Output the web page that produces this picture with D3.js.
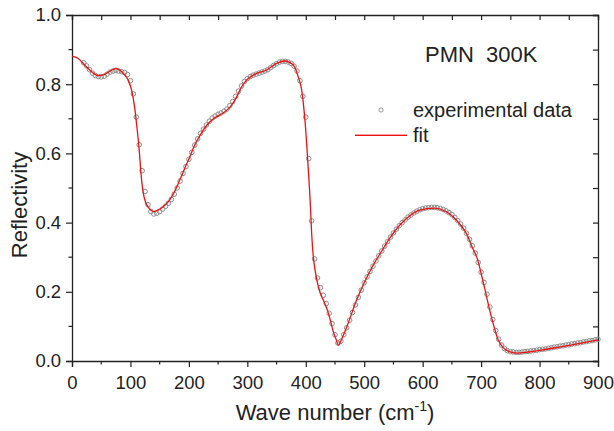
<!DOCTYPE html>
<html lang="en">
<head>
  <meta charset="UTF-8">
  <title>PMN reflectivity</title>
  <script src="https://cdn.jsdelivr.net/npm/d3@7"></script>
<style>
  body { margin: 0; background: #fff; }
  text { font-family: "Liberation Sans", Arial, sans-serif; fill: #222; }
</style>
</head>

<body>
  <script>
    // fit curve (wave number, reflectivity)
    var fitWave = [0, 10, 22, 32, 45, 54, 65, 75, 88, 96, 102, 107, 111, 115, 118, 122, 126, 131, 139, 147,
      156, 166, 175, 185, 195, 202, 208, 219, 231, 242, 253, 265, 274, 282, 290, 299, 308, 316, 333, 350,
      364, 372, 379, 387, 393, 399, 404, 408, 410, 413, 416, 419, 424, 430, 437, 442, 447, 452, 456, 460,
      470, 487, 500, 515, 530, 544, 561, 578, 595, 620, 640, 652, 665, 675, 685, 693, 704, 715, 722, 729,
      737, 748, 761, 780, 800, 830, 860, 900];
    var fitRefl = [0.881, 0.875, 0.855, 0.838, 0.825, 0.827, 0.838, 0.845, 0.831, 0.812, 0.783, 0.735, 0.677, 0.610, 0.542, 0.485, 0.458, 0.443, 0.432, 0.436,
      0.446, 0.463, 0.488, 0.525, 0.565, 0.592, 0.617, 0.652, 0.682, 0.700, 0.711, 0.725, 0.742, 0.764, 0.792, 0.812, 0.824, 0.831, 0.841, 0.860,
      0.867, 0.863, 0.855, 0.822, 0.783, 0.687, 0.562, 0.446, 0.370, 0.300, 0.262, 0.234, 0.200, 0.176, 0.147, 0.118, 0.085, 0.062, 0.046, 0.058,
      0.098, 0.176, 0.226, 0.276, 0.318, 0.356, 0.393, 0.420, 0.436, 0.442, 0.432, 0.417, 0.393, 0.368, 0.328, 0.298, 0.225, 0.145, 0.100, 0.062,
      0.040, 0.027, 0.023, 0.026, 0.031, 0.039, 0.048, 0.061];

    // experimental points
    var expWave = [20, 25, 30, 35, 40, 45, 50, 55, 60, 65, 70, 75, 80, 85, 90, 95, 100, 105, 110, 115,
      120, 125, 130, 135, 140, 145, 150, 155, 160, 165, 170, 175, 180, 185, 190, 195, 200, 205, 210, 215,
      220, 225, 230, 235, 240, 245, 250, 255, 260, 265, 270, 275, 280, 285, 290, 295, 300, 305, 310, 315,
      320, 325, 330, 335, 340, 345, 350, 355, 360, 365, 370, 375, 380, 385, 390, 395, 400, 405, 410, 415,
      420, 425, 430, 435, 440, 445, 450, 455, 460, 465, 470, 475, 480, 485, 490, 495, 500, 505, 510, 515,
      520, 525, 530, 535, 540, 545, 550, 555, 560, 565, 570, 575, 580, 585, 590, 595, 600, 605, 610, 615,
      620, 625, 630, 635, 640, 645, 650, 655, 660, 665, 670, 675, 680, 685, 690, 695, 700, 705, 710, 715,
      720, 725, 730, 735, 740, 745, 750, 755, 760, 765, 770, 775, 780, 785, 790, 795, 800, 805, 810, 815,
      820, 825, 830, 835, 840, 845, 850, 855, 860, 865, 870, 875, 880, 885, 890, 895, 900];
    var expRefl = [0.862, 0.853, 0.842, 0.832, 0.825, 0.822, 0.821, 0.823, 0.829, 0.835, 0.838, 0.840, 0.838, 0.836, 0.834, 0.828, 0.810, 0.772, 0.705, 0.625,
      0.550, 0.490, 0.452, 0.432, 0.425, 0.427, 0.432, 0.439, 0.447, 0.456, 0.467, 0.482, 0.500, 0.520, 0.542, 0.562, 0.583, 0.603, 0.624, 0.642,
      0.658, 0.670, 0.682, 0.693, 0.702, 0.708, 0.713, 0.717, 0.722, 0.728, 0.738, 0.750, 0.765, 0.780, 0.795, 0.808, 0.816, 0.822, 0.826, 0.829,
      0.832, 0.835, 0.838, 0.842, 0.848, 0.854, 0.859, 0.864, 0.866, 0.866, 0.864, 0.860, 0.852, 0.838, 0.810, 0.765, 0.705, 0.585, 0.405, 0.295,
      0.240, 0.212, 0.190, 0.166, 0.138, 0.108, 0.076, 0.052, 0.057, 0.076, 0.096, 0.118, 0.140, 0.162, 0.184, 0.205, 0.226, 0.243, 0.259, 0.274,
      0.289, 0.304, 0.318, 0.332, 0.345, 0.358, 0.370, 0.381, 0.391, 0.400, 0.408, 0.416, 0.422, 0.428, 0.433, 0.437, 0.440, 0.442, 0.443, 0.444,
      0.444, 0.443, 0.441, 0.438, 0.434, 0.429, 0.423, 0.415, 0.406, 0.396, 0.384, 0.369, 0.352, 0.333, 0.312, 0.285, 0.257, 0.227, 0.193, 0.156,
      0.120, 0.088, 0.063, 0.046, 0.036, 0.030, 0.027, 0.026, 0.025, 0.025, 0.026, 0.027, 0.028, 0.029, 0.030, 0.031, 0.033, 0.034, 0.035, 0.037,
      0.038, 0.040, 0.041, 0.043, 0.044, 0.046, 0.047, 0.049, 0.050, 0.052, 0.053, 0.055, 0.056, 0.058, 0.059, 0.061, 0.063];

    var xTicks = [0, 100, 200, 300, 400, 500, 600, 700, 800, 900];
    var xMinor = [50, 150, 250, 350, 450, 550, 650, 750, 850];
    var yTicks = [0.0, 0.2, 0.4, 0.6, 0.8, 1.0];
    var yMinor = [0.1, 0.3, 0.5, 0.7, 0.9];
    var legendLabels = ['experimental data', 'fit'];
    var sampleName = 'PMN  300K';

    var w = 614;
    var h = 431;
    var margin = {top: 15, right: 16, bottom: 70, left: 72};
    var red = '#ee1111';
    var grey = '#8c8c8c';

    var svg = d3.select('body')
                .append('svg')
                .attr('width', w)
                .attr('height', h);

    var x = d3.scaleLinear().domain([0, 900]).range([margin.left, w - margin.right]);
    var y = d3.scaleLinear().domain([0, 1]).range([h - margin.bottom, margin.top]);

    // axes: bottom/left ticks point out, top/right point in
    var xAxisG = svg.append('g').attr('class', 'ax').attr('transform', `translate(0,${h - margin.bottom})`);
    xAxisG.call(d3.axisBottom(x).tickValues(xTicks).tickSize(6).tickFormat(d3.format('d')));
    xAxisG.selectAll('.minor').data(xMinor).enter().append('line')
      .attr('x1', d => x(d)).attr('x2', d => x(d)).attr('y1', 0).attr('y2', 3.5);

    var yAxisG = svg.append('g').attr('class', 'ax').attr('transform', `translate(${margin.left},0)`);
    yAxisG.call(d3.axisLeft(y).tickValues(yTicks).tickSize(6).tickFormat(d3.format('.1f')));
    yAxisG.selectAll('.minor').data(yMinor).enter().append('line')
      .attr('y1', d => y(d)).attr('y2', d => y(d)).attr('x1', 0).attr('x2', -3.5);

    var topAxisG = svg.append('g').attr('class', 'ax').attr('transform', `translate(0,${margin.top})`);
    topAxisG.call(d3.axisTop(x).tickValues(xTicks.concat(xMinor)).tickSize(-5).tickFormat(''));

    var rightAxisG = svg.append('g').attr('class', 'ax').attr('transform', `translate(${w - margin.right},0)`);
    rightAxisG.call(d3.axisRight(y).tickValues(yTicks.concat(yMinor)).tickSize(-5).tickFormat(''));

    svg.selectAll('.ax .domain').attr('stroke', '#222').attr('stroke-width', 1.3);
    svg.selectAll('.ax line').attr('stroke', '#222').attr('stroke-width', 1.2);
    svg.selectAll('.tick text')
      .attr('font-family', '"Liberation Sans", Arial, sans-serif')
      .attr('font-size', '18.5px')
      .attr('fill', '#222');
    xAxisG.selectAll('.tick text').attr('dy', '1.05em');
    yAxisG.selectAll('.tick text').attr('dx', '-0.1em');

    // experimental circles
    svg.append('g').selectAll('circle')
      .data(expWave)
      .enter()
      .append('circle')
      .attr('cx', d => x(d))
      .attr('cy', (d, i) => y(expRefl[i]))
      .attr('r', 2.3)
      .attr('fill', 'none')
      .attr('stroke', grey)
      .attr('stroke-width', 1);

    // fit line
    var line = d3.line()
      .x(d => x(d))
      .y((d, i) => y(fitRefl[i]))
      .curve(d3.curveMonotoneX);

    svg.append('path')
      .datum(fitWave)
      .attr('d', line)
      .attr('fill', 'none')
      .attr('stroke', red)
      .attr('stroke-width', 1.3);

    // titles
    svg.append('text')
      .attr('x', (margin.left + w - margin.right) / 2)
      .attr('y', 420)
      .attr('text-anchor', 'middle')
      .attr('font-size', '22px')
      .text('Wave number (cm')
      .call(t => t.append('tspan').attr('font-size', '14px').attr('dy', -9).text('-1'))
      .call(t => t.append('tspan').attr('dy', 9).text(')'));

    svg.append('text')
      .attr('transform', 'translate(27,205) rotate(-90)')
      .attr('text-anchor', 'middle')
      .attr('font-size', '22px')
      .text('Reflectivity');

    svg.append('text')
      .attr('x', 425)
      .attr('y', 62)
      .attr('font-size', '22px')
      .style('white-space', 'pre')
      .text(sampleName);

    // legend
    var legend = svg.append('g');
    legend.append('circle')
      .attr('cx', 381).attr('cy', 110).attr('r', 2.1)
      .attr('fill', 'none').attr('stroke', grey).attr('stroke-width', 0.9);
    legend.append('rect')
      .attr('x', 355).attr('y', 134.6).attr('width', 52).attr('height', 1.4)
      .attr('fill', red);
    legend.selectAll('text')
      .data(legendLabels)
      .enter()
      .append('text')
      .attr('x', 413)
      .attr('y', (d, i) => 117 + i * 25)
      .attr('font-size', '20px')
      .text(d => d);
  </script>
</body>
</html>
